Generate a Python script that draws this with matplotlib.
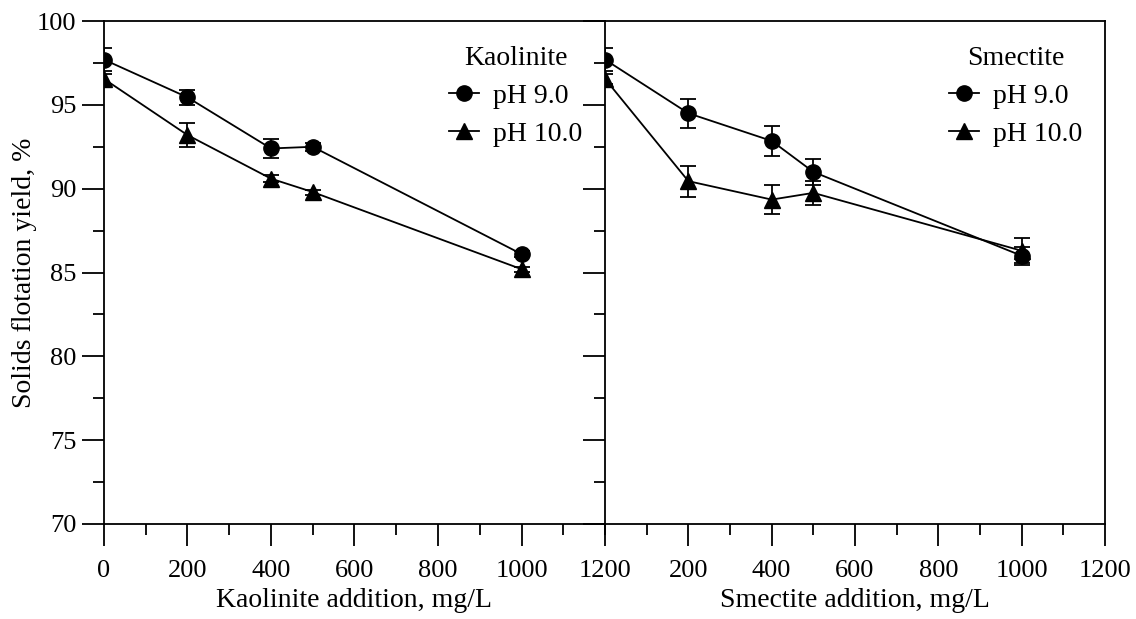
import numpy as np
import matplotlib.pyplot as plt
from matplotlib.lines import Line2D
from matplotlib.ticker import MultipleLocator

plt.rcParams['font.family'] = ['Liberation Serif', 'DejaVu Serif']

# <-- data -->
dose = [0, 200, 400, 500, 1000]

kao_ph9 = [97.7, 95.45, 92.4, 92.5, 86.1]
kao_ph9_err = [0.7, 0.45, 0.55, 0.25, 0.2]
kao_ph10 = [96.55, 93.2, 90.6, 89.8, 85.2]
kao_ph10_err = [0.3, 0.72, 0.2, 0.15, 0.15]

sme_ph9 = [97.7, 94.5, 92.85, 91.0, 86.0]
sme_ph9_err = [0.7, 0.85, 0.9, 0.78, 0.55]
sme_ph10 = [96.55, 90.45, 89.35, 89.75, 86.3]
sme_ph10_err = [0.3, 0.93, 0.85, 0.7, 0.75]

series_names = ["pH 9.0", "pH 10.0"]

panels = [
    ("Kaolinite", "Kaolinite addition, mg/L", kao_ph9, kao_ph9_err, kao_ph10, kao_ph10_err),
    ("Smectite", "Smectite addition, mg/L", sme_ph9, sme_ph9_err, sme_ph10, sme_ph10_err),
]

fig = plt.figure(figsize=(11.36, 6.19), dpi=100)
ax1 = fig.add_axes([0.0915, 0.1535, 0.4411, 0.8125])
ax2 = fig.add_axes([0.5326, 0.1535, 0.4401, 0.8125], sharey=ax1)

for ax, (name, xlab, y9, e9, y10, e10) in zip([ax1, ax2], panels):
    kw = dict(color="black", lw=1.3, capsize=6, capthick=1.3, elinewidth=1.3, ms=11)
    ax.errorbar(dose, y9, yerr=e9, marker="o", **kw)
    ax.errorbar(dose, y10, yerr=e10, marker="^", **kw)
    ax.set_xlim(0, 1200)
    ax.set_ylim(70, 100)
    ax.xaxis.set_major_locator(MultipleLocator(200))
    ax.xaxis.set_minor_locator(MultipleLocator(100))
    ax.yaxis.set_major_locator(MultipleLocator(5))
    ax.yaxis.set_minor_locator(MultipleLocator(2.5))
    ax.tick_params(which="major", direction="out", length=16, width=1.3, labelsize=19)
    ax.tick_params(which="minor", direction="out", length=8, width=1.3)
    ax.tick_params(axis="x", pad=10)
    ax.tick_params(axis="y", pad=4)
    ax.tick_params(right=False, top=False, which="both")
    for s in ax.spines.values():
        s.set_linewidth(1.3)
    ax.set_xlabel(xlab, fontsize=20, labelpad=4)
    handles = [Line2D([], [], color="black", lw=1.3, marker=m, ms=11) for m in ["o", "^"]]
    ax.legend(handles, series_names, title=name, loc="upper right", frameon=False,
              fontsize=20, title_fontsize=20, handlelength=1.1, handletextpad=0.5,
              borderaxespad=0.0, labelspacing=0.45, borderpad=0.0,
              bbox_to_anchor=(0.955, 0.95))

ax1.set_ylabel("Solids flotation yield, %", fontsize=20, labelpad=0)
ax1.spines["right"].set_visible(False)
ax2.set_xticks([200, 400, 600, 800, 1000, 1200])
ax2.xaxis.set_minor_locator(MultipleLocator(100))
plt.setp(ax2.get_yticklabels(), visible=False)

fig.savefig("out.png", dpi=100)
